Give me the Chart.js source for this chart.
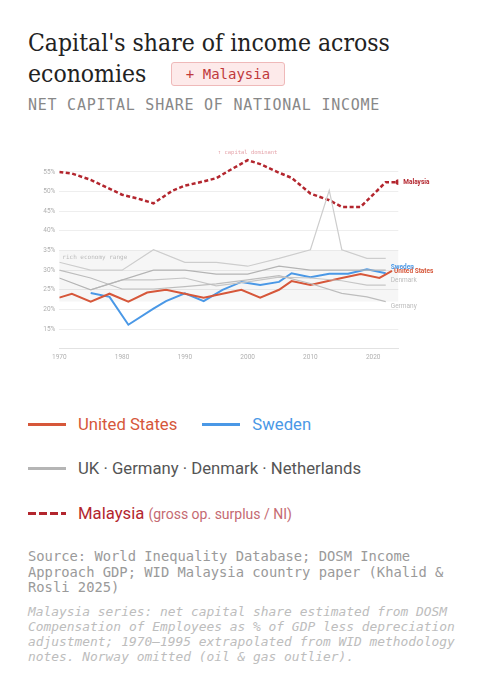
<!DOCTYPE html>
<html>
<head>
<meta charset="utf-8">
<script src="https://cdn.jsdelivr.net/npm/chart.js@4.4.1/dist/chart.umd.min.js"></script>
<style>
  html, body { margin: 0; padding: 0; background: #fff; }
  body { width: 501px; height: 680px; position: relative; overflow: hidden; font-family: Roboto, "Noto Sans", sans-serif; }
  .titulo { position: absolute; left: 28px; top: 27px; font-family: "DejaVu Serif", serif; font-stretch: condensed; font-size: 24.5px; line-height: 31px; color: #222; white-space: nowrap; }
  .selo { position: absolute; left: 171px; top: 62px; width: 112px; height: 22px; border: 1px solid #efb9b9; background: #fdeaea; border-radius: 3px; color: #c0393b; font-family: "DejaVu Sans Mono", monospace; font-size: 14px; line-height: 22px; text-align: center; }
  .subtitulo { position: absolute; left: 28px; top: 96px; font-family: "DejaVu Sans Mono", monospace; font-size: 15px; letter-spacing: 0.75px; color: #888; white-space: nowrap; }
  #grafico-container { position: absolute; left: 28px; top: 140px; width: 445px; height: 230px; }
  .legenda { position: absolute; left: 28px; font-size: 16.7px; white-space: nowrap; display: flex; align-items: center; }
  .traco { display: inline-block; width: 38px; height: 0; border-top: 3px solid; margin-right: 12px; }
  .traco-tracejado { display: inline-block; width: 38px; height: 3px; margin-right: 12px;
    background: repeating-linear-gradient(90deg, #b3262e 0 8px, transparent 8px 11px); }
  .fonte { position: absolute; left: 28px; top: 549px; font-family: "DejaVu Sans Mono", monospace; font-size: 13.8px; line-height: 15.5px; color: #9a9a9a; white-space: nowrap; }
  .nota { position: absolute; left: 28px; top: 604px; font-family: "DejaVu Sans Mono", monospace; font-style: italic; font-size: 12.9px; line-height: 15px; color: #bdbdbd; white-space: nowrap; }
</style>
</head>
<body>
<div class="titulo">Capital's share of income across<br>economies</div>
<div class="selo">+ Malaysia</div>
<div class="subtitulo">NET CAPITAL SHARE OF NATIONAL INCOME</div>

<div id="grafico-container"><canvas id="graficoCapital"></canvas></div>

<div class="legenda" style="top:415px">
  <span class="traco" style="border-color:#d6573a"></span><span style="color:#d6573a">United States</span>
  <span class="traco" style="border-color:#4a98e6;margin-left:25px"></span><span style="color:#4a98e6">Sweden</span>
</div>
<div class="legenda" style="top:459px">
  <span class="traco" style="border-color:#b5b5b5"></span><span style="color:#555">UK · Germany · Denmark · Netherlands</span>
</div>
<div class="legenda" style="top:504px">
  <span class="traco-tracejado"></span><span style="color:#b3262e">Malaysia</span>&nbsp;<span style="color:#c56a72;font-size:14px">(gross op. surplus / NI)</span>
</div>

<div class="fonte">Source: World Inequality Database; DOSM Income<br>Approach GDP; WID Malaysia country paper (Khalid &amp;<br>Rosli 2025)</div>
<div class="nota">Malaysia series: net capital share estimated from DOSM<br>Compensation of Employees as % of GDP less depreciation<br>adjustment; 1970–1995 extrapolated from WID methodology<br>notes. Norway omitted (oil &amp; gas outlier).</div>

<script>
// Dados (% da renda nacional)
const anosEUA = [1970, 1972, 1975, 1978, 1981, 1984, 1987, 1990, 1993, 1996, 1999, 2002, 2005, 2007, 2010, 2013, 2015, 2018, 2021, 2023];
const capitalEUA = [23, 24, 22, 24, 22, 24.3, 25, 24, 23, 24, 25, 23, 25, 27.2, 26.2, 27.3, 28, 29, 28, 29.8];

const anosSuecia = [1975, 1978, 1981, 1985, 1987, 1990, 1993, 1996, 1999, 2002, 2005, 2007, 2010, 2013, 2016, 2019, 2022];
const capitalSuecia = [24.2, 23.2, 16.1, 20.2, 22.1, 24.1, 22.1, 25, 27, 26.2, 27, 29.2, 28.2, 29.1, 29.1, 30.2, 29.2];

const anosHolanda = [1970, 1975, 1980, 1985, 1990, 1995, 2000, 2005, 2010, 2013, 2015, 2019, 2022];
const capitalHolanda = [32, 30, 30, 35.2, 32, 32, 31, 33, 35.2, 50.3, 35.2, 33, 33];

const anosReinoUnido = [1970, 1975, 1985, 1990, 1995, 2000, 2005, 2010, 2015, 2019, 2022];
const capitalReinoUnido = [28, 25, 30, 30, 29, 29, 31, 30, 30, 30, 30];

const anosAlemanha = [1970, 1975, 1980, 1985, 1990, 1995, 2000, 2005, 2010, 2015, 2019, 2022];
const capitalAlemanha = [30, 28, 25.2, 25.2, 25.8, 26.5, 27.5, 28.6, 26.6, 24.1, 23.2, 22];

const anosDinamarca = [1975, 1980, 1985, 1990, 1995, 2000, 2005, 2010, 2015, 2019, 2022];
const capitalDinamarca = [25, 27.5, 27.5, 28, 26, 27, 28.2, 28, 27.3, 26.2, 26.2];

const anosMalasia = [1970, 1972, 1975, 1980, 1983, 1985, 1988, 1990, 1993, 1995, 1997, 2000, 2002, 2005, 2007, 2010, 2013, 2015, 2018, 2022, 2024];
const capitalMalasia = [55, 54.6, 53, 49.2, 48, 47, 50.2, 51.5, 52.6, 53.4, 55.3, 58, 57, 54.8, 53.5, 49.5, 47.8, 46.1, 46.1, 52.4, 52.4];

const faixaRicos = [22, 35];
const ticksAnos = [1970, 1980, 1990, 2000, 2010, 2020];

const fonteMini = 'Roboto, "Noto Sans", sans-serif';

function pontos(anos, valores) {
    return anos.map((a, i) => ({ x: a, y: valores[i] }));
}

function serieCinza(nome, anos, valores, cor) {
    return {
        label: nome, data: pontos(anos, valores),
        borderColor: cor, borderWidth: 1.2, pointRadius: 0, tension: 0
    };
}

/**
 * Faixa "rich economy range", nota "capital dominant" e rótulos no fim das linhas.
 */
const pluginDecoracao = {
    id: 'decoracao',
    beforeDatasetsDraw(chart) {
        const { ctx, chartArea, scales: { x, y } } = chart;
        const topo = y.getPixelForValue(faixaRicos[1]);
        const base = y.getPixelForValue(faixaRicos[0]);
        ctx.save();
        ctx.fillStyle = 'rgba(0,0,0,0.035)';
        ctx.fillRect(chartArea.left, topo, chartArea.right - chartArea.left, base - topo);
        ctx.font = '6px "DejaVu Sans Mono", monospace';
        ctx.fillStyle = '#bbbbbb';
        ctx.textBaseline = 'top';
        ctx.fillText('rich economy range', chartArea.left + 3, topo + 4);
        ctx.font = '5.5px "DejaVu Sans Mono", monospace';
        ctx.fillStyle = '#e6a7ad';
        ctx.textAlign = 'center';
        ctx.textBaseline = 'middle';
        ctx.fillText('↑ capital dominant', x.getPixelForValue(2000), y.getPixelForValue(60));
        ctx.restore();
    },
    afterDatasetsDraw(chart) {
        const { ctx } = chart;
        ctx.save();
        ctx.textBaseline = 'middle';
        chart.data.datasets.forEach((ds, i) => {
            if (!ds.rotulo) return;
            const meta = chart.getDatasetMeta(i);
            const ultimo = meta.data[meta.data.length - 1];
            ctx.font = (ds.rotuloNegrito ? 'bold ' : '') + '6.5px ' + fonteMini;
            ctx.fillStyle = ds.rotuloCor || ds.borderColor;
            ctx.fillText(ds.rotulo, ultimo.x + (ds.rotuloDx || 5), ultimo.y + (ds.rotuloDy || 0));
        });
        ctx.restore();
    }
};

function desenharGrafico() {
    const ctx = document.getElementById('graficoCapital').getContext('2d');

    new Chart(ctx, {
        type: 'line',
        data: {
            datasets: [
                serieCinza('Netherlands', anosHolanda, capitalHolanda, '#cdcdcd'),
                serieCinza('UK', anosReinoUnido, capitalReinoUnido, '#b4b4b4'),
                Object.assign(serieCinza('Germany', anosAlemanha, capitalAlemanha, '#bdbdbd'),
                    { rotulo: 'Germany', rotuloCor: '#bcbcbc', rotuloDy: 5 }),
                Object.assign(serieCinza('Denmark', anosDinamarca, capitalDinamarca, '#c6c6c6'),
                    { rotulo: 'Denmark', rotuloCor: '#bcbcbc', rotuloDy: -5 }),
                {
                    label: 'United States', data: pontos(anosEUA, capitalEUA),
                    borderColor: '#d6573a', borderWidth: 2, pointRadius: 0, tension: 0,
                    rotulo: 'United States', rotuloNegrito: true, rotuloDx: 2
                },
                {
                    label: 'Sweden', data: pontos(anosSuecia, capitalSuecia),
                    borderColor: '#4a98e6', borderWidth: 2, pointRadius: 0, tension: 0,
                    rotulo: 'Sweden', rotuloNegrito: true, rotuloDy: -6
                },
                {
                    label: 'Malaysia', data: pontos(anosMalasia, capitalMalasia),
                    borderColor: '#b3262e', backgroundColor: '#b3262e', borderWidth: 2.5, borderDash: [4, 2.5],
                    tension: 0, pointBorderWidth: 0,
                    pointRadius: c => c.dataIndex === anosMalasia.length - 1 ? 2.8 : 0,
                    rotulo: 'Malaysia', rotuloNegrito: true, rotuloDx: 5
                }
            ]
        },
        plugins: [pluginDecoracao],
        options: {
            responsive: true,
            maintainAspectRatio: false,
            animation: false,
            layout: { padding: { top: 12.3, right: 74.7, bottom: 0, left: 0 } },
            scales: {
                x: {
                    type: 'linear', min: 1970, max: 2024,
                    afterBuildTicks: eixo => { eixo.ticks = ticksAnos.map(v => ({ value: v })); },
                    afterFit: eixo => { eixo.height = 21.3; },
                    grid: { display: false, drawTicks: false },
                    border: { display: true, color: '#e2e2e2', width: 1 },
                    ticks: {
                        padding: 5, color: '#b0b0b0', maxRotation: 0,
                        font: { family: fonteMini, size: 6.5 },
                        callback: v => String(v)
                    }
                },
                y: {
                    min: 10, max: 60,
                    afterFit: eixo => { eixo.width = 31.3; },
                    grid: {
                        drawTicks: false,
                        color: c => (c.tick.value === 60 ? 'rgba(0,0,0,0)' : '#eeeeee')
                    },
                    border: { display: false },
                    ticks: {
                        stepSize: 5, padding: 4, color: '#b0b0b0',
                        font: { family: fonteMini, size: 6.5 },
                        callback: v => (v === 10 || v === 60 ? '' : v + '%')
                    }
                }
            },
            plugins: {
                legend: { display: false },
                tooltip: { enabled: false }
            }
        }
    });
}

desenharGrafico();
</script>
</body>
</html>
